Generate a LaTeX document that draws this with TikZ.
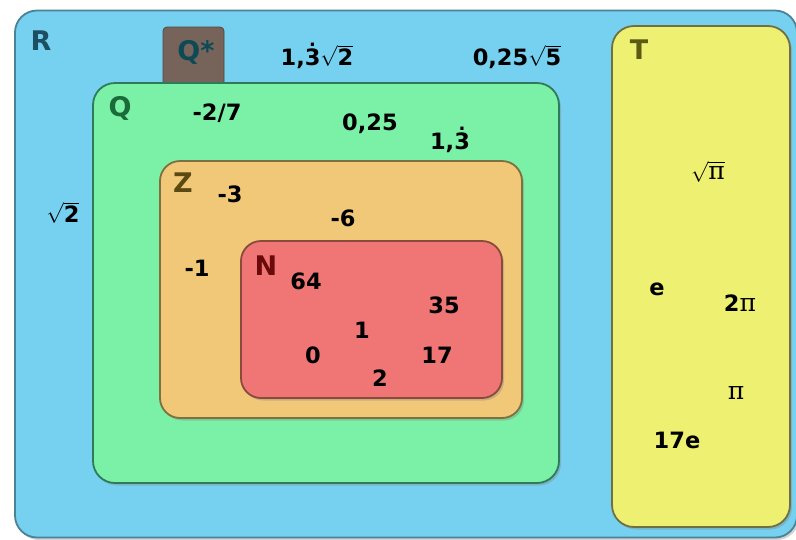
\documentclass[tikz,border=0pt]{standalone}
\usepackage{fontspec}
\setmainfont{DejaVu Sans}
\newfontfamily\pifont{DejaVu Serif}
\usetikzlibrary{shadows}
\definecolor{rfill}{HTML}{76D0F0}
\definecolor{rline}{HTML}{4A8296}
\definecolor{qfill}{HTML}{7AF1A6}
\definecolor{qline}{HTML}{2F7A58}
\definecolor{zfill}{HTML}{F0C878}
\definecolor{zline}{HTML}{7E7040}
\definecolor{nfill}{HTML}{F07676}
\definecolor{nline}{HTML}{8A4A3C}
\definecolor{tfill}{HTML}{EEF072}
\definecolor{tline}{HTML}{6E7044}
\definecolor{qsfill}{HTML}{76645A}
\definecolor{rtext}{HTML}{1D4F63}
\definecolor{qstext}{HTML}{0E4A55}
\definecolor{qtext}{HTML}{1A6A3A}
\definecolor{ztext}{HTML}{5A4A12}
\definecolor{ntext}{HTML}{6A0A0A}
\definecolor{ttext}{HTML}{5A5A12}
\newcommand{\pisym}{{\pifont\mdseries\fontsize{25}{27}\selectfont π}}
\newcommand{\rtof}[1]{$\sqrt{\mbox{#1}}$}
\newcommand{\rep}[1]{\leavevmode\setbox0\hbox{#1}\rlap{\hbox to\wd0{\hss\raisebox{0.84em}{\fontsize{18}{20}\selectfont.}\hss}}\box0}
\begin{document}
\begin{tikzpicture}[x=1pt,y=-1pt,
  setbox/.style={draw, line width=1.8pt, rounded corners=22pt, outer sep=0pt, inner sep=0pt,
    drop shadow={shadow xshift=2pt, shadow yshift=-2.5pt, opacity=0.35}},
  num/.style={font=\bfseries\fontsize{22.5}{26}\selectfont, inner sep=0pt, text=black},
  lab/.style={font=\bfseries\fontsize{27}{30}\selectfont, inner sep=0pt}]
\useasboundingbox (0,0) rectangle (796,539);
\fill[white] (0,0) rectangle (796,539);
% sets
\node[setbox, fill=rfill, draw=rline, minimum width=782pt, minimum height=527pt] (R) at (406,274) {};
\node[draw=qsfill!70!black, line width=0.8pt, fill=qsfill, rounded corners=4pt, minimum width=61pt, minimum height=63pt, inner sep=0pt] (Qsbox) at (193.5,58.5) {};
\node[setbox, fill=qfill, draw=qline, minimum width=466pt, minimum height=400pt] (Q) at (326,283) {};
\node[setbox, fill=zfill, draw=zline, rounded corners=20pt, minimum width=362pt, minimum height=257pt] (Z) at (341,289.5) {};
\node[setbox, fill=nfill, draw=nline, rounded corners=20pt, minimum width=261pt, minimum height=157pt] (N) at (371.5,319.5) {};
\node[setbox, fill=tfill, draw=tline, minimum width=178pt, minimum height=501pt] (T) at (701,276.5) {};
% set labels
\node[lab, text=rtext] (lR) at (41,41) {R};
\node[lab, text=qstext] (lQs) at (196,52) {Q*};
\node[lab, text=qtext] (lQ) at (120,108) {Q};
\node[lab, text=ztext] (lZ) at (183,183) {Z};
\node[lab, text=ntext] (lN) at (266,266) {N};
\node[lab, text=ttext] (lT) at (639,50) {T};
% elements of R
\node[num, anchor=base] (e1) at (317,65) {1,\rep{3}\rtof{2}};
\node[num, anchor=base] (e2) at (517,65) {0,25\rtof{5}};
\node[num] (e3) at (63,213) {\rtof{2}};
% elements of Q
\node[num] (q1) at (217,113) {-2/7};
\node[num] (q2) at (370,124) {0,25};
\node[num, anchor=base] (q3) at (450,149) {1,\rep{3}};
% elements of Z
\node[num] (z1) at (230,194) {-3};
\node[num] (z2) at (343,218) {-6};
\node[num] (z3) at (197,268) {-1};
% elements of N
\node[num] (n1) at (306,281) {64};
\node[num] (n2) at (444,305) {35};
\node[num] (n3) at (362,330) {1};
\node[num] (n4) at (313,355) {0};
\node[num] (n5) at (437,355) {17};
\node[num] (n6) at (380,378) {2};
% elements of T
\node[num] (t1) at (708,172) {$\sqrt{\mbox{\pisym}}$};
\node[num] (t2) at (657,289) {e};
\node[num] (t3) at (740,303) {2\pisym};
\node[num] (t4) at (736,393) {\pisym};
\node[num] (t5) at (677,440) {17e};
\end{tikzpicture}
\end{document}
